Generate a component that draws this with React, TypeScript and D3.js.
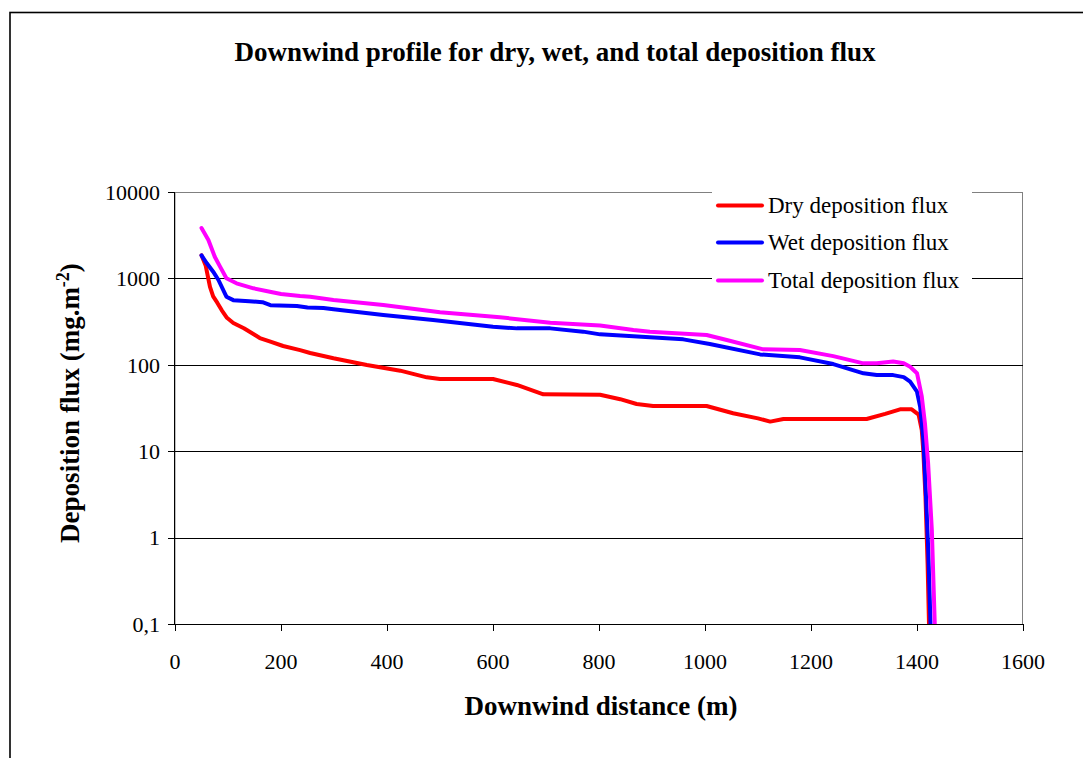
import React from "react";
import * as d3 from "d3";

// Downwind distance (m) and deposition flux (mg.m-2) for each series
const dryDistance = [50, 58, 66, 72, 80, 88, 98, 110, 130, 160, 180, 204, 236, 255, 299, 362, 425, 475, 500, 600, 645, 695, 802, 840, 871, 902, 1003, 1053, 1100, 1123, 1148, 1305, 1340, 1368, 1390, 1403, 1409, 1412, 1416, 1420, 1423];
const dryFlux = [1850, 1400, 800, 620, 520, 430, 350, 305, 265, 204, 185, 165, 148, 137, 119, 99.5, 85.5, 71.6, 68.5, 68.5, 58.4, 45.5, 45, 40, 35.2, 33.4, 33.4, 27.5, 24, 22, 23.6, 23.6, 27, 30.5, 30.5, 26.5, 17.6, 9.9, 3, 0.5, 0.08];

const wetDistance = [50, 60, 72, 82, 97, 110, 140, 165, 180, 230, 250, 280, 299, 393, 487, 600, 645, 708, 770, 802, 896, 959, 1009, 1104, 1179, 1242, 1299, 1324, 1355, 1375, 1387, 1400, 1406, 1412, 1417, 1421, 1426];
const wetFlux = [1850, 1496, 1196, 958, 614, 560, 545, 530, 490, 480, 460, 455, 439, 377, 330, 276, 264, 264, 242, 225, 208, 197, 174, 132, 122, 102, 79.7, 76, 76, 72, 63.7, 48.8, 32.7, 13.5, 2.97, 0.785, 0.08];

const totalDistance = [50, 63, 75, 85, 97, 116, 148, 179, 200, 236, 255, 299, 393, 500, 613, 708, 802, 865, 896, 1003, 1041, 1110, 1179, 1242, 1299, 1324, 1355, 1375, 1387, 1400, 1409, 1415, 1421, 1428, 1434];
const totalFlux = [3830, 2782, 1783, 1367, 1003, 877, 768, 702, 660, 626, 614, 562, 492, 405, 355, 307, 285, 253, 242, 221, 194, 151, 148, 126, 104, 104, 109, 104, 95, 80, 43, 21, 7.2, 1.22, 0.08];

const seriesNames = ["Dry deposition flux", "Wet deposition flux", "Total deposition flux"];
const seriesColors = ["#ff0000", "#0000ff", "#ff00ff"];

const xTicks = [0, 200, 400, 600, 800, 1000, 1200, 1400, 1600];
const yTicks = [0.1, 1, 10, 100, 1000, 10000];
const yTickLabels = ["0,1", "1", "10", "100", "1000", "10000"];

const W = 1083;
const H = 758;
const plot = { left: 175, right: 1023, top: 192, bottom: 624 };
const serif = "'Liberation Serif', 'Times New Roman', serif";

export default function App() {
  const x = d3.scaleLinear().domain([0, 1600]).range([plot.left, plot.right]);
  const y = d3.scaleLog().domain([0.1, 10000]).range([plot.bottom, plot.top]);

  const line = d3
    .line<[number, number]>()
    .x((d) => x(d[0]))
    .y((d) => y(d[1]));

  const series = [
    { name: seriesNames[0], color: seriesColors[0], pts: dryDistance.map((d, i) => [d, dryFlux[i]] as [number, number]) },
    { name: seriesNames[1], color: seriesColors[1], pts: wetDistance.map((d, i) => [d, wetFlux[i]] as [number, number]) },
    { name: seriesNames[2], color: seriesColors[2], pts: totalDistance.map((d, i) => [d, totalFlux[i]] as [number, number]) },
  ];

  const legend = { x: 712, y: 186, w: 260, h: 112 };
  const legendRows = [205.5, 242.5, 280.5];

  return (
    <svg
      width={W}
      height={H}
      style={{ position: "absolute", left: 0, top: 0, background: "#fff" }}
      fontFamily={serif}
    >
      <defs>
        <clipPath id="plot-clip">
          <rect x={plot.left} y={plot.top} width={plot.right - plot.left} height={plot.bottom - plot.top} />
        </clipPath>
      </defs>

      {/* chart frame */}
      <rect x={10} y={12.5} width={1200} height={900} fill="#fff" stroke="#000" strokeWidth={1.6} />

      {/* title */}
      <text x={555} y={61} textAnchor="middle" fontSize={27} fontWeight="bold">
        Downwind profile for dry, wet, and total deposition flux
      </text>

      {/* plot border */}
      <rect
        x={plot.left}
        y={plot.top + 0.5}
        width={plot.right - plot.left - 0.5}
        height={plot.bottom - plot.top}
        fill="none"
        stroke="#808080"
        strokeWidth={1}
      />

      {/* horizontal gridlines */}
      {yTicks.slice(1, -1).map((t) => (
        <line
          key={"g" + t}
          x1={plot.left}
          x2={plot.right}
          y1={Math.round(y(t)) + 0.5}
          y2={Math.round(y(t)) + 0.5}
          stroke="#000"
          strokeWidth={1}
        />
      ))}

      {/* axes */}
      <line x1={plot.left - 0.5} x2={plot.left - 0.5} y1={plot.top} y2={plot.bottom} stroke="#000" />
      <line x1={plot.left} x2={plot.right} y1={plot.bottom + 0.5} y2={plot.bottom + 0.5} stroke="#000" />

      {yTicks.map((t, i) => (
        <g key={"y" + t}>
          <line x1={plot.left - 7} x2={plot.left} y1={Math.round(y(t)) + 0.5} y2={Math.round(y(t)) + 0.5} stroke="#000" />
          <text x={160} y={y(t)} dy="0.35em" textAnchor="end" fontSize={22}>
            {yTickLabels[i]}
          </text>
        </g>
      ))}

      {xTicks.map((t) => (
        <g key={"x" + t}>
          <line x1={Math.round(x(t)) + 0.5} x2={Math.round(x(t)) + 0.5} y1={plot.bottom} y2={plot.bottom + 7} stroke="#000" />
          <text x={x(t)} y={669} textAnchor="middle" fontSize={22}>
            {t}
          </text>
        </g>
      ))}

      {/* axis titles */}
      <text x={601} y={715} textAnchor="middle" fontSize={27} fontWeight="bold">
        Downwind distance (m)
      </text>
      <text transform="translate(79,403) rotate(-90)" textAnchor="middle" fontSize={27} fontWeight="bold">
        Deposition flux (mg.m
        <tspan fontSize={18} dy={-10}>-2</tspan>
        <tspan dy={10}>)</tspan>
      </text>

      {/* series */}
      <g clipPath="url(#plot-clip)">
        {series.map((s) => (
          <path
            key={s.name}
            d={line(s.pts) || ""}
            fill="none"
            stroke={s.color}
            strokeWidth={4}
            strokeLinejoin="round"
            strokeLinecap="round"
          />
        ))}
      </g>

      {/* legend */}
      <rect x={legend.x} y={legend.y} width={legend.w} height={legend.h} fill="#fff" />
      {series.map((s, i) => (
        <g key={"l" + s.name}>
          <line
            x1={718}
            x2={762}
            y1={legendRows[i]}
            y2={legendRows[i]}
            stroke={s.color}
            strokeWidth={4}
            strokeLinecap="round"
          />
          <text x={768} y={legendRows[i]} dy="0.33em" fontSize={23}>
            {s.name}
          </text>
        </g>
      ))}
    </svg>
  );
}
